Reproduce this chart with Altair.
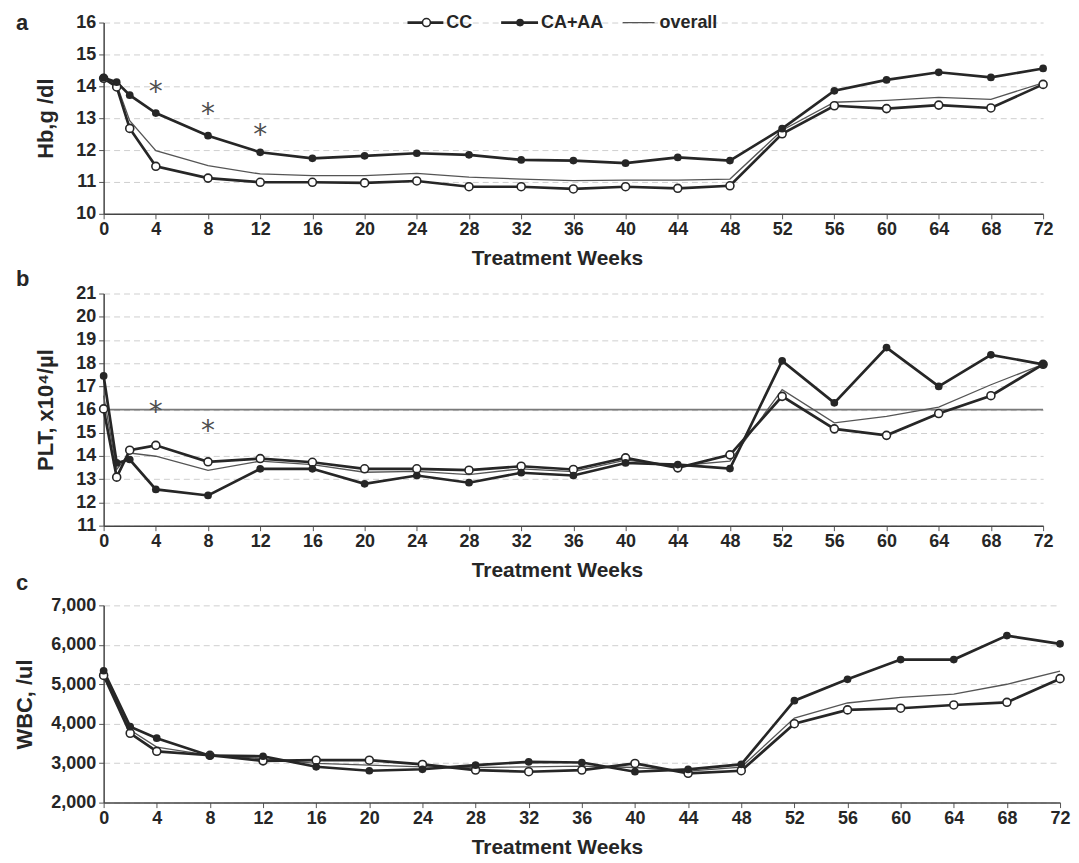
import altair as alt
import pandas as pd

# ---------------- data ----------------
series_names = ["CC", "CA+AA", "overall"]

weeks_ab = [0, 1, 2, 4, 8, 12, 16, 20, 24, 28, 32, 36, 40, 44, 48, 52, 56, 60, 64, 68, 72]
weeks_c = [0, 2, 4, 8, 12, 16, 20, 24, 28, 32, 36, 40, 44, 48, 52, 56, 60, 64, 68, 72]
x_ticks = [0, 4, 8, 12, 16, 20, 24, 28, 32, 36, 40, 44, 48, 52, 56, 60, 64, 68, 72]

hb_cc = [14.25, 13.98, 12.68, 11.49, 11.12, 10.99, 10.99, 10.97, 11.03, 10.85, 10.85,
         10.78, 10.85, 10.80, 10.88, 12.51, 13.39, 13.30, 13.41, 13.32, 14.06]
hb_ca = [14.27, 14.13, 13.72, 13.16, 12.45, 11.93, 11.74, 11.82, 11.90, 11.85, 11.69,
         11.67, 11.59, 11.77, 11.67, 12.67, 13.86, 14.20, 14.44, 14.28, 14.56]
hb_all = [14.26, 14.06, 12.92, 11.98, 11.51, 11.25, 11.20, 11.20, 11.27, 11.15, 11.09,
          11.04, 11.06, 11.06, 11.09, 12.62, 13.50, 13.56, 13.65, 13.59, 14.11]
hb_ticks = [10, 11, 12, 13, 14, 15, 16]
hb_star_weeks = [4, 8, 12]
hb_star_vals = [14.0, 13.31, 12.66]

plt_cc = [16.03, 13.09, 14.25, 14.46, 13.75, 13.89, 13.73, 13.45, 13.45, 13.39, 13.56,
          13.42, 13.92, 13.49, 14.05, 16.57, 15.17, 14.89, 15.83, 16.60, 17.95]
plt_ca = [17.45, 13.70, 13.85, 12.56, 12.30, 13.45, 13.45, 12.80, 13.16, 12.85, 13.28,
          13.16, 13.70, 13.63, 13.46, 18.10, 16.29, 18.67, 17.00, 18.36, 17.95]
plt_all = [16.60, 13.42, 14.13, 13.99, 13.38, 13.78, 13.63, 13.30, 13.34, 13.20, 13.45,
           13.33, 13.82, 13.58, 13.78, 16.86, 15.43, 15.71, 16.11, 17.07, 17.95]
plt_ticks = [11, 12, 13, 14, 15, 16, 17, 18, 19, 20, 21]
plt_ref = [16]
plt_star_weeks = [4, 8]
plt_star_vals = [16.17, 15.35]

wbc_cc = [5225, 3758, 3300, 3200, 3058, 3075, 3075, 2967, 2825, 2783, 2825, 2992, 2742,
          2808, 4000, 4350, 4392, 4475, 4542, 5142]
wbc_ca = [5342, 3925, 3633, 3190, 3175, 2908, 2808, 2845, 2950, 3033, 3017, 2783, 2842,
          2970, 4583, 5125, 5625, 5625, 6233, 6025]
wbc_all = [5280, 3842, 3408, 3200, 3117, 2992, 2950, 2908, 2890, 2908, 2925, 2890, 2800,
           2900, 4142, 4525, 4667, 4750, 5000, 5333]
wbc_ticks = [2000, 3000, 4000, 5000, 6000, 7000]

# ---------------- styling ----------------
FONT = "Liberation Sans"
INK = "#262626"
GRID = "#cfcfcf"


def long_df(weeks, cc, ca, ov):
    n = len(weeks)
    return pd.DataFrame({
        "week": list(weeks) * 3,
        "value": list(cc) + list(ca) + list(ov),
        "series": [series_names[0]] * n + [series_names[1]] * n + [series_names[2]] * n,
    })


def panel(df, ytitle, ydom, yticks, yfmt, h, w, ytitle_pad, label, label_y,
          stars=None, ref=None, legend=False):
    xaxis = alt.Axis(values=x_ticks, title="Treatment Weeks", titleX=455, grid=False,
                     labelFontSize=18, titleFontSize=21, labelFontWeight="bold",
                     titleFontWeight="bold", labelFont=FONT, titleFont=FONT,
                     labelColor=INK, titleColor=INK, tickSize=5, tickColor="#555",
                     labelPadding=2, titlePadding=9, domainColor="#444",
                     domainWidth=1.5, labelFlush=False)
    yaxis = alt.Axis(values=yticks, format=yfmt, title=ytitle, grid=True,
                     gridColor=GRID, gridDash=[6, 4], gridWidth=1,
                     labelFontSize=18, titleFontSize=22, labelFontWeight="bold",
                     titleFontWeight="bold", labelFont=FONT, titleFont=FONT,
                     labelColor=INK, titleColor=INK, tickSize=5, tickColor="#555",
                     labelPadding=3, titlePadding=ytitle_pad, domainColor="#444",
                     domainWidth=1.5)
    xenc = alt.X("week:Q", scale=alt.Scale(domain=[0, 72], nice=False, zero=False), axis=xaxis)
    yenc = alt.Y("value:Q", scale=alt.Scale(domain=ydom, nice=False, zero=False), axis=yaxis)

    base = alt.Chart(df).encode(x=xenc, y=yenc)
    layers = []
    if ref is not None:
        layers.append(alt.Chart(pd.DataFrame({"value": ref})).mark_rule(
            color="#7a7a7a", strokeWidth=1.6).encode(y=yenc))
    layers.append(base.transform_filter(alt.datum.series == series_names[2]).mark_line(
        color="#555555", strokeWidth=1.3))
    layers.append(base.transform_filter(alt.datum.series == series_names[0]).mark_line(
        color=INK, strokeWidth=2.7))
    layers.append(base.transform_filter(alt.datum.series == series_names[1]).mark_line(
        color=INK, strokeWidth=2.7))
    layers.append(base.transform_filter(alt.datum.series == series_names[0]).mark_circle(
        size=64, fill="white", stroke=INK, strokeWidth=1.6, opacity=1))
    layers.append(base.transform_filter(alt.datum.series == series_names[1]).mark_circle(
        size=60, color=INK, opacity=1))
    if stars is not None:
        sdf = pd.DataFrame({"week": stars[0], "value": stars[1], "t": ["*"] * len(stars[0])})
        layers.append(alt.Chart(sdf).mark_text(
            fontSize=28, font="DejaVu Sans", color="#505050", baseline="middle", dy=7).encode(
            x=xenc, y=yenc, text="t:N"))
    layers.append(alt.Chart(pd.DataFrame({"t": [label]})).mark_text(
        align="left", baseline="middle", fontSize=22, fontWeight="bold", font=FONT,
        color=INK).encode(x=alt.value(-88), y=alt.value(label_y), text="t:N"))
    if legend:
        ldf = pd.DataFrame({"t": series_names})
        leg_y = 0
        # CC
        layers.append(alt.Chart(ldf).transform_filter(alt.datum.t == series_names[0]).mark_rule(
            color=INK, strokeWidth=2.7).encode(x=alt.value(305), x2=alt.value(341), y=alt.value(leg_y)))
        layers.append(alt.Chart(ldf).transform_filter(alt.datum.t == series_names[0]).mark_circle(
            size=64, fill="white", stroke=INK, strokeWidth=1.6, opacity=1).encode(
            x=alt.value(324), y=alt.value(leg_y)))
        layers.append(alt.Chart(ldf).transform_filter(alt.datum.t == series_names[0]).mark_text(
            align="left", baseline="middle", fontSize=18, fontWeight="bold", font=FONT,
            color=INK).encode(x=alt.value(344), y=alt.value(leg_y), text="t:N"))
        # CA+AA
        layers.append(alt.Chart(ldf).transform_filter(alt.datum.t == series_names[1]).mark_rule(
            color=INK, strokeWidth=2.7).encode(x=alt.value(399), x2=alt.value(436), y=alt.value(leg_y)))
        layers.append(alt.Chart(ldf).transform_filter(alt.datum.t == series_names[1]).mark_circle(
            size=60, color=INK, opacity=1).encode(x=alt.value(418), y=alt.value(leg_y)))
        layers.append(alt.Chart(ldf).transform_filter(alt.datum.t == series_names[1]).mark_text(
            align="left", baseline="middle", fontSize=18, fontWeight="bold", font=FONT,
            color=INK).encode(x=alt.value(439), y=alt.value(leg_y), text="t:N"))
        # overall
        layers.append(alt.Chart(ldf).transform_filter(alt.datum.t == series_names[2]).mark_rule(
            color="#555555", strokeWidth=1.3).encode(x=alt.value(521), x2=alt.value(553), y=alt.value(leg_y)))
        layers.append(alt.Chart(ldf).transform_filter(alt.datum.t == series_names[2]).mark_text(
            align="left", baseline="middle", fontSize=18, fontWeight="bold", font=FONT,
            color=INK).encode(x=alt.value(558), y=alt.value(leg_y), text="t:N"))
    return alt.layer(*layers).properties(width=w, height=h)


pa = panel(long_df(weeks_ab, hb_cc, hb_ca, hb_all), "Hb,g /dl", [10, 16], hb_ticks, "d",
           192, 943, 18, "a", 0, stars=(hb_star_weeks, hb_star_vals), legend=True)
pb = panel(long_df(weeks_ab, plt_cc, plt_ca, plt_all), "PLT, x10\u2074/\u00b5l", [11, 21],
           plt_ticks, "d", 233, 943, 18, "b", -15, stars=(plt_star_weeks, plt_star_vals),
           ref=plt_ref)
pc = panel(long_df(weeks_c, wbc_cc, wbc_ca, wbc_all), "WBC, /ul", [2000, 7000], wbc_ticks,
           ",d", 198, 960, 14, "c", -22)

chart = alt.vconcat(pa, pb, pc, spacing=80, bounds="flush").configure_view(
    stroke=None).properties(padding={"left": 5, "top": 2, "right": 0, "bottom": 0})

chart.save("out.html", embed_options={"renderer": "svg", "actions": False})
